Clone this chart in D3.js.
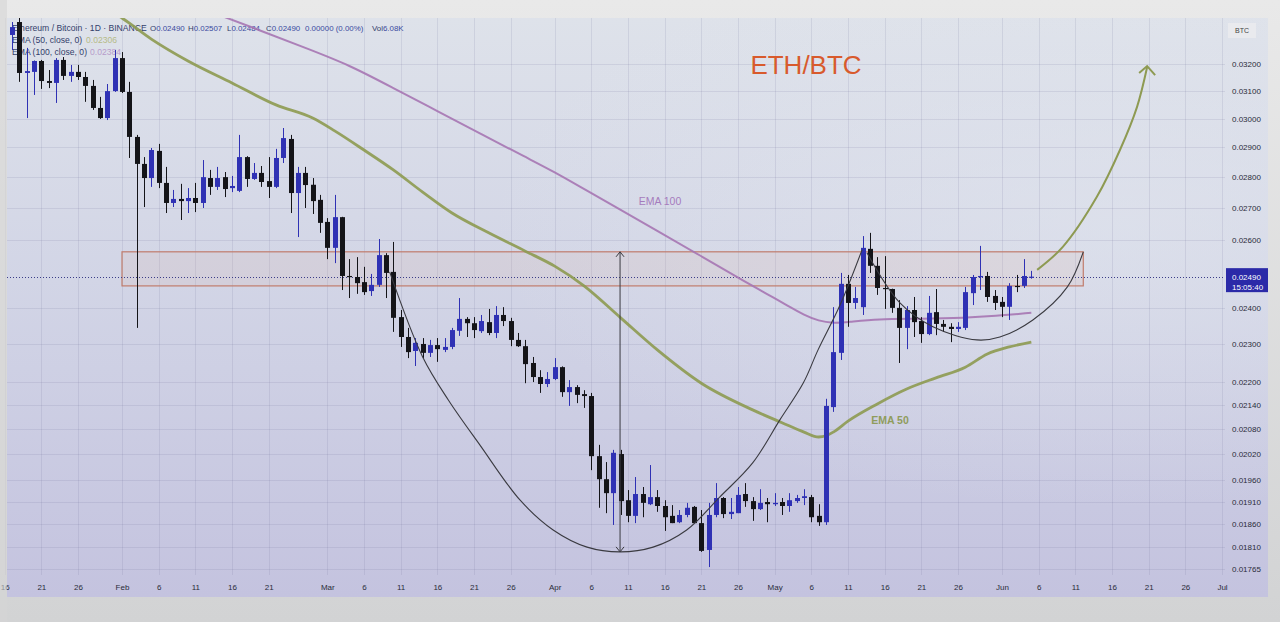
<!DOCTYPE html>
<html><head><meta charset="utf-8">
<script src="https://cdn.jsdelivr.net/npm/d3@7"></script>
<style>html,body{margin:0;padding:0;background:#d9d9d9;overflow:hidden}svg{display:block}</style>
</head><body><svg id="c" width="1280" height="622"></svg>
<script>
// ---------- DATA ----------
// [date, open, high, low, close]  (ETH/BTC daily, 2025)
const candles = [
["01-17",0.03311,0.03362,0.03253,0.03342],["01-18",0.03362,0.03378,0.03133,0.03166],["01-19",0.03166,0.03261,0.03002,0.03173],
["01-20",0.03170,0.03213,0.03085,0.03211],["01-21",0.03211,0.03215,0.03107,0.03136],["01-22",0.03136,0.03177,0.03110,0.03129],
["01-23",0.03129,0.03222,0.03056,0.03215],["01-24",0.03215,0.03226,0.03140,0.03155],["01-25",0.03155,0.03196,0.03133,0.03170],
["01-26",0.03170,0.03196,0.03140,0.03151],["01-27",0.03151,0.03170,0.03060,0.03118],["01-28",0.03118,0.03140,0.03031,0.03038],
["01-29",0.03038,0.03078,0.02999,0.03002],["01-30",0.03002,0.03125,0.02995,0.03099],["01-31",0.03099,0.03253,0.03096,0.03222],
["02-01",0.03222,0.03245,0.03092,0.03096],["02-02",0.03096,0.03133,0.02864,0.02936],["02-03",0.02936,0.02943,0.02344,0.02844],
["02-04",0.02844,0.02867,0.02703,0.02797],["02-05",0.02797,0.02898,0.02768,0.02891],["02-06",0.02888,0.02912,0.02764,0.02781],
["02-07",0.02781,0.02834,0.02684,0.02716],["02-08",0.02716,0.02758,0.02703,0.02729],["02-09",0.02729,0.02778,0.02662,0.02722],
["02-10",0.02722,0.02764,0.02684,0.02732],["02-11",0.02732,0.02781,0.02687,0.02716],["02-12",0.02716,0.02857,0.02700,0.02800],
["02-13",0.02797,0.02824,0.02742,0.02768],["02-14",0.02768,0.02834,0.02758,0.02797],["02-15",0.02800,0.02817,0.02735,0.02761],
["02-16",0.02764,0.02804,0.02751,0.02771],["02-17",0.02755,0.02943,0.02751,0.02867],["02-18",0.02867,0.02870,0.02768,0.02794],
["02-19",0.02794,0.02847,0.02791,0.02814],["02-20",0.02814,0.02837,0.02768,0.02784],["02-21",0.02787,0.02867,0.02732,0.02768],
["02-22",0.02768,0.02895,0.02764,0.02864],["02-23",0.02864,0.02967,0.02847,0.02932],["02-24",0.02929,0.02943,0.02684,0.02748],
["02-25",0.02748,0.02834,0.02609,0.02814],["02-26",0.02814,0.02834,0.02700,0.02774],["02-27",0.02775,0.02797,0.02681,0.02722],
["02-28",0.02726,0.02742,0.02622,0.02653],["03-01",0.02656,0.02668,0.02542,0.02576],["03-02",0.02576,0.02742,0.02530,0.02671],
["03-03",0.02671,0.02672,0.02451,0.02492],["03-04",0.02492,0.02542,0.02428,0.02489],["03-05",0.02489,0.02548,0.02440,0.02471],
["03-06",0.02474,0.02519,0.02437,0.02445],["03-07",0.02448,0.02498,0.02434,0.02466],["03-08",0.02466,0.02603,0.02460,0.02554],
["03-09",0.02554,0.02560,0.02428,0.02501],["03-10",0.02504,0.02594,0.02333,0.02372],["03-11",0.02374,0.02394,0.02292,0.02319],
["03-12",0.02319,0.02344,0.02262,0.02278],["03-13",0.02281,0.02316,0.02241,0.02303],["03-14",0.02300,0.02316,0.02262,0.02276],
["03-15",0.02276,0.02311,0.02265,0.02297],["03-16",0.02297,0.02316,0.02252,0.02286],["03-17",0.02284,0.02316,0.02278,0.02292],
["03-18",0.02292,0.02344,0.02286,0.02338],["03-19",0.02336,0.02428,0.02322,0.02369],["03-20",0.02369,0.02374,0.02319,0.02357],
["03-21",0.02357,0.02374,0.02316,0.02338],["03-22",0.02335,0.02380,0.02330,0.02363],["03-23",0.02360,0.02397,0.02324,0.02330],
["03-24",0.02330,0.02405,0.02316,0.02380],["03-25",0.02380,0.02402,0.02349,0.02363],["03-26",0.02363,0.02372,0.02294,0.02311],
["03-27",0.02311,0.02330,0.02292,0.02294],["03-28",0.02294,0.02311,0.02196,0.02246],["03-29",0.02249,0.02265,0.02199,0.02212],
["03-30",0.02212,0.02230,0.02171,0.02194],["03-31",0.02194,0.02225,0.02186,0.02207],["04-01",0.02207,0.02262,0.02204,0.02238],
["04-02",0.02238,0.02240,0.02161,0.02173],["04-03",0.02173,0.02204,0.02138,0.02186],["04-04",0.02186,0.02191,0.02145,0.02166],
["04-05",0.02168,0.02178,0.02133,0.02163],["04-06",0.02163,0.02171,0.01982,0.02015],["04-07",0.02015,0.02042,0.01896,0.01961],
["04-08",0.01961,0.02001,0.01884,0.01929],["04-09",0.01929,0.02030,0.01858,0.02023],["04-10",0.02020,0.02030,0.01880,0.01911],
["04-11",0.01913,0.01936,0.01864,0.01878],["04-12",0.01878,0.01966,0.01862,0.01927],["04-13",0.01927,0.01943,0.01875,0.01907],
["04-14",0.01904,0.01994,0.01902,0.01920],["04-15",0.01920,0.01936,0.01887,0.01900],["04-16",0.01900,0.01913,0.01845,0.01875],
["04-17",0.01878,0.01902,0.01862,0.01862],["04-18",0.01864,0.01891,0.01862,0.01880],["04-19",0.01880,0.01907,0.01875,0.01896],
["04-20",0.01898,0.01900,0.01862,0.01862],["04-21",0.01862,0.01891,0.01800,0.01802],["04-22",0.01804,0.01907,0.01768,0.01880],
["04-23",0.01880,0.01952,0.01875,0.01918],["04-24",0.01918,0.01920,0.01873,0.01882],["04-25",0.01882,0.01918,0.01871,0.01887],
["04-26",0.01884,0.01943,0.01884,0.01925],["04-27",0.01927,0.01952,0.01898,0.01911],["04-28",0.01911,0.01920,0.01867,0.01893],
["04-29",0.01893,0.01938,0.01891,0.01907],["04-30",0.01909,0.01918,0.01864,0.01904],["05-01",0.01904,0.01929,0.01900,0.01907],
["05-02",0.01909,0.01918,0.01880,0.01900],["05-03",0.01900,0.01929,0.01887,0.01913],["05-04",0.01911,0.01925,0.01907,0.01918],
["05-05",0.01918,0.01938,0.01902,0.01922],["05-06",0.01920,0.01925,0.01864,0.01875],["05-07",0.01878,0.01904,0.01856,0.01864],
["05-08",0.01864,0.02156,0.01858,0.02138],["05-09",0.02135,0.02402,0.02123,0.02278],["05-10",0.02276,0.02501,0.02257,0.02469],
["05-11",0.02469,0.02495,0.02347,0.02414],["05-12",0.02414,0.02460,0.02397,0.02428],["05-13",0.02402,0.02612,0.02380,0.02576],
["05-14",0.02573,0.02622,0.02501,0.02522],["05-15",0.02522,0.02548,0.02437,0.02457],["05-16",0.02457,0.02551,0.02397,0.02454],
["05-17",0.02454,0.02455,0.02386,0.02400],["05-18",0.02400,0.02422,0.02249,0.02344],["05-19",0.02344,0.02405,0.02286,0.02394],
["05-20",0.02394,0.02431,0.02319,0.02360],["05-21",0.02363,0.02374,0.02303,0.02327],["05-22",0.02327,0.02434,0.02324,0.02386],
["05-23",0.02388,0.02454,0.02324,0.02355],["05-24",0.02355,0.02366,0.02333,0.02347],["05-25",0.02347,0.02357,0.02305,0.02341],
["05-26",0.02341,0.02360,0.02333,0.02347],["05-27",0.02344,0.02460,0.02338,0.02445],["05-28",0.02442,0.02495,0.02408,0.02489],
["05-29",0.02489,0.02582,0.02451,0.02492],["05-30",0.02492,0.02504,0.02417,0.02431],["05-31",0.02434,0.02451,0.02394,0.02414],
["06-01",0.02417,0.02431,0.02374,0.02403],["06-02",0.02403,0.02471,0.02366,0.02463],["06-03",0.02463,0.02495,0.02445,0.02460],
["06-04",0.02463,0.02542,0.02457,0.02492],["06-05",0.02490,0.02507,0.02484,0.02490]
];
const ema50 = [["01-28",0.03467],["01-30",0.03415],["02-01",0.03378],["02-05",0.03295],["02-10",0.03211],["02-16",0.03129],
["02-22",0.03049],["02-27",0.03002],["03-02",0.02957],["03-06",0.02891],["03-10",0.02824],["03-14",0.02751],["03-18",0.02684],
["03-23",0.02622],["03-28",0.02566],["04-01",0.02521],["04-05",0.02463],["04-10",0.02372],["04-15",0.02284],["04-21",0.02196],
["04-28",0.02128],["05-02",0.02096],["05-05",0.02073],["05-07",0.02061],["05-08",0.02064],["05-09",0.02073],["05-11",0.02100],
["05-15",0.02143],["05-19",0.02181],["05-23",0.02210],["05-27",0.02238],["05-30",0.02273],["06-02",0.02292],["06-05",0.02305]];
const ema100 = [["02-12",0.03414],["02-14",0.03393],["02-20",0.03327],["02-26",0.03261],["03-04",0.03196],["03-10",0.03110],
["03-16",0.03027],["03-22",0.02946],["03-28",0.02867],["04-01",0.02817],["04-05",0.02761],["04-10",0.02694],["04-15",0.02628],
["04-21",0.02551],["04-27",0.02474],["05-01",0.02428],["05-03",0.02403],["05-05",0.02380],["05-07",0.02363],["05-09",0.02357],
["05-11",0.02360],["05-15",0.02369],["05-21",0.02369],["05-27",0.02372],["05-31",0.02377],["06-05",0.02386]];
const priceTicks = [0.032,0.031,0.030,0.029,0.028,0.027,0.026,0.024,0.023,0.022,0.0214,0.0208,0.0202,0.0196,0.0191,0.0186,0.0181,0.01765];
const dateTicks = ["01-16","01-21","01-26","02-01","02-06","02-11","02-16","02-21","03-01","03-06","03-11","03-16","03-21","03-26",
"04-01","04-06","04-11","04-16","04-21","04-26","05-01","05-06","05-11","05-16","05-21","05-26","06-01","06-06","06-11","06-16","06-21","06-26","07-01"];
// drawings
const bigCup = [["03-09T12",0.02504],["03-14T00",0.02265],["03-17T12",0.02153],["03-21T19",0.02042],["03-27T07",0.01913],
["03-31T19",0.01847],["04-05T10",0.01810],["04-09T22",0.01800],["04-14T10",0.01810],["04-19T00",0.01847],["04-23T12",0.01920],
["04-28T00",0.01999],["05-01T17",0.02103],["05-04T22",0.02197],["05-06T22",0.02284],["05-09T22",0.02408],["05-12T22",0.02570]];
const smallCup = [["05-13T14",0.02561],["05-18T02",0.02414],["05-22T14",0.02347],["05-28T14",0.02311],["05-31T17",0.02319],
["06-05T05",0.02366],["06-09T22",0.02460],["06-12T02",0.02564]];
const upArrow = [["06-05T19",0.02510],["06-09T07",0.02579],["06-13T22",0.02735],["06-17T02",0.02891],["06-19T10",0.03042],["06-20T19",0.03188]];
const zoneFrom = "02-01", zoneTo = "06-12T02", zoneTop = 0.02564, zoneBottom = 0.02463;
const arrowDate = "04-09T22", arrowTop = 0.02564, arrowBottom = 0.01800;
const lastPrice = 0.02490, lastTime = "15:05:40";
const legendTitle = "Ethereum / Bitcoin · 1D · BINANCE";
const legendOHLC = [["O","0.02490"],["H","0.02507"],["L","0.02484"],["C","0.02490"],["","0.00000 (0.00%)"],["Vol","6.08K"]];
const legendEMA = [["EMA (50, close, 0)","0.02306"],["EMA (100, close, 0)","0.02384"]];

// ---------- CHART ----------
const T = s => new Date(`2025-${s}${s.includes("T") ? ":00:00Z" : "T00:00:00Z"}`);
const x = d3.scaleUtc().domain([T("01-01"), T("07-01")]).range([-105.33, 1222]);
const y = d3.scaleLog().domain([0.01765, 0.032]).range([568.5, 63.9]);
const FONT = "'Liberation Sans', Arial, sans-serif";
const svg = d3.select("#c");
const defs = svg.append("defs");
const bg = defs.append("linearGradient").attr("id","bg").attr("x1",0).attr("y1",0).attr("x2",0).attr("y2",1);
bg.append("stop").attr("offset","0%").attr("stop-color","#dee2ea");
bg.append("stop").attr("offset","45%").attr("stop-color","#d2d5e6");
bg.append("stop").attr("offset","100%").attr("stop-color","#c4c3df");
const hl = defs.append("radialGradient").attr("id","hl").attr("cx","0.88").attr("cy","0.35").attr("r","0.5");
hl.append("stop").attr("offset","0%").attr("stop-color","#e2e6ee").attr("stop-opacity",0.55);
hl.append("stop").attr("offset","100%").attr("stop-color","#e2e6ee").attr("stop-opacity",0);
const fr = defs.append("linearGradient").attr("id","fr").attr("x1",0).attr("y1",0).attr("x2",0).attr("y2",1);
fr.append("stop").attr("offset","0%").attr("stop-color","#e9e9e9");
fr.append("stop").attr("offset","100%").attr("stop-color","#d2d3d4");
defs.append("clipPath").attr("id","plot").append("rect").attr("x",7).attr("y",18).attr("width",1218).attr("height",557);

svg.append("rect").attr("width",1280).attr("height",622).attr("fill","url(#fr)");
svg.append("rect").attr("x",7).attr("y",18).attr("width",1261).attr("height",579).attr("fill","url(#bg)");
svg.append("rect").attr("x",7).attr("y",18).attr("width",1261).attr("height",579).attr("fill","url(#hl)");

// grid
const grid = svg.append("g").attr("stroke","rgba(105,105,150,0.14)").attr("stroke-width",1);
grid.selectAll("line.h").data(priceTicks).join("line")
  .attr("x1",7).attr("x2",1225).attr("y1",d=>Math.round(y(d))+0.5).attr("y2",d=>Math.round(y(d))+0.5);
grid.selectAll("line.v").data(dateTicks).join("line")
  .attr("y1",18).attr("y2",575).attr("x1",d=>Math.round(x(T(d)))+0.5).attr("x2",d=>Math.round(x(T(d)))+0.5);

// legend (drawn under candles as in the reference)
const lg = svg.append("g").attr("font-family",FONT).attr("font-size",8.6);
lg.append("text").attr("x",12).attr("y",31).attr("fill","#33406a").text(legendTitle);
const ohlcX = [150,188,227,266,305,372];
legendOHLC.forEach((d,i)=>{
  const t = lg.append("text").attr("x",ohlcX[i]).attr("y",31).attr("font-size",7.9);
  t.append("tspan").attr("fill","#33406a").text(d[0]);
  t.append("tspan").attr("fill","#3a4aa0").text(d[1]);
});
lg.append("text").attr("x",12).attr("y",43).attr("fill","#33406a").text(legendEMA[0][0]);
lg.append("text").attr("x",86).attr("y",43).attr("fill","#b6bb88").text(legendEMA[0][1]);
lg.append("text").attr("x",12).attr("y",55).attr("fill","#33406a").text(legendEMA[1][0]);
lg.append("text").attr("x",90).attr("y",55).attr("fill","#b79ccb").text(legendEMA[1][1]);

const plot = svg.append("g").attr("clip-path","url(#plot)");

// zone
plot.append("rect")
  .attr("x",x(T(zoneFrom))).attr("width",x(T(zoneTo))-x(T(zoneFrom)))
  .attr("y",y(zoneTop)).attr("height",y(zoneBottom)-y(zoneTop))
  .attr("fill","rgba(226,170,150,0.13)").attr("stroke","#c07c6c").attr("stroke-width",1.2);

// current price dotted line
plot.append("line").attr("x1",7).attr("x2",1225).attr("y1",Math.round(y(lastPrice))+0.5).attr("y2",Math.round(y(lastPrice))+0.5)
  .attr("stroke","#3a3c88").attr("stroke-width",1).attr("stroke-dasharray","1 2");

// EMAs
const line50 = d3.line().x(d=>x(T(d[0]))).y(d=>y(d[1])).curve(d3.curveMonotoneX);
const line100 = d3.line().x(d=>x(T(d[0]))).y(d=>y(d[1])).curve(d3.curveBasis);
plot.append("path").attr("d",line100(ema100)).attr("fill","none").attr("stroke","#a676b2").attr("stroke-width",2).attr("stroke-opacity",0.9);
plot.append("path").attr("d",line50(ema50)).attr("fill","none").attr("stroke","#8d9a50").attr("stroke-width",2.8).attr("stroke-opacity",0.9);

// candles
const UP = "#2f31b4", DOWN = "#141418";
const cg = plot.append("g");
const cs = cg.selectAll("g").data(candles).join("g");
cs.append("line")
  .attr("x1",d=>Math.round(x(T(d[0])))+0.5).attr("x2",d=>Math.round(x(T(d[0])))+0.5)
  .attr("y1",d=>y(d[2])).attr("y2",d=>y(d[3]))
  .attr("stroke",d=>d[4]>=d[1]?UP:DOWN).attr("stroke-width",1);
cs.append("rect")
  .attr("x",d=>Math.round(x(T(d[0])))-2).attr("width",5)
  .attr("y",d=>y(Math.max(d[1],d[4])))
  .attr("height",d=>Math.max(1.2,Math.abs(y(d[1])-y(d[4]))))
  .attr("fill",d=>d[4]>=d[1]?UP:DOWN);

// drawings
const cup = d3.line().x(d=>x(T(d[0]))).y(d=>y(d[1])).curve(d3.curveCatmullRom);
plot.append("path").attr("d",cup(bigCup)).attr("fill","none").attr("stroke","#3a3a40").attr("stroke-width",1.1);
plot.append("path").attr("d",cup(smallCup)).attr("fill","none").attr("stroke","#3a3a40").attr("stroke-width",1.1);
// vertical double arrow
const ax = x(T(arrowDate)), ay1 = y(arrowTop), ay2 = y(arrowBottom);
plot.append("line").attr("x1",ax).attr("x2",ax).attr("y1",ay1).attr("y2",ay2).attr("stroke","#3a3a40").attr("stroke-width",1);
plot.append("path").attr("d",`M${ax-4},${ay1+5}L${ax},${ay1}L${ax+4},${ay1+5}M${ax-4},${ay2-5}L${ax},${ay2}L${ax+4},${ay2-5}`)
  .attr("fill","none").attr("stroke","#3a3a40").attr("stroke-width",1);
// green curved arrow
plot.append("path").attr("d",cup(upArrow)).attr("fill","none").attr("stroke","#8e9a52").attr("stroke-width",2);
const tip = upArrow[upArrow.length-1], tx = x(T(tip[0])), ty = y(tip[1]);
plot.append("path").attr("d",`M${tx-8},${ty+6}L${tx},${ty-1}L${tx+8},${ty+8}`).attr("fill","none").attr("stroke","#8e9a52").attr("stroke-width",2);

// text annotations
svg.append("text").attr("x",806).attr("y",74).attr("text-anchor","middle").attr("font-family",FONT)
  .attr("font-size",26).attr("fill","#d85a2c").text("ETH/BTC");
svg.append("text").attr("x",660).attr("y",205).attr("text-anchor","middle").attr("font-family",FONT)
  .attr("font-size",10.5).attr("fill","#a67bbd").text("EMA 100");
svg.append("text").attr("x",890).attr("y",424).attr("text-anchor","middle").attr("font-family",FONT)
  .attr("font-size",10.5).attr("font-weight","bold").attr("fill","#909c5c").text("EMA 50");

// axes
const yAxis = svg.append("g").attr("transform","translate(1230,0)")
  .call(d3.axisRight(y).tickValues(priceTicks).tickFormat(d3.format(".5f")).tickSize(0).tickPadding(2));
yAxis.select(".domain").remove();
yAxis.selectAll("text").attr("font-family",FONT).attr("font-size",8).attr("fill","#2a2c3a");

const fmtDay = d => d.getUTCDate()===1 ? d3.utcFormat("%b")(d) : String(d.getUTCDate());
const xAxis = svg.append("g").attr("transform","translate(0,580)")
  .call(d3.axisBottom(x).tickValues(dateTicks.map(T)).tickFormat(fmtDay).tickSize(0).tickPadding(4));
xAxis.select(".domain").remove();
xAxis.selectAll("text").attr("font-family",FONT).attr("font-size",8).attr("fill","#2a2c3a");

// current price label
const ly = y(lastPrice);
svg.append("rect").attr("x",1226).attr("y",ly-8.5).attr("width",42).attr("height",24).attr("fill","#2b2aa8");
svg.append("text").attr("x",1232).attr("y",ly+3).attr("font-family",FONT).attr("font-size",8).attr("fill","#fff").text(d3.format(".5f")(lastPrice));
svg.append("text").attr("x",1232).attr("y",ly+13).attr("font-family",FONT).attr("font-size",8).attr("fill","#fff").text(lastTime);
// currency box
svg.append("rect").attr("x",1228).attr("y",23).attr("width",28).attr("height",15).attr("fill","#e9eaee");
svg.append("text").attr("x",1242).attr("y",33).attr("text-anchor","middle").attr("font-family",FONT).attr("font-size",7).attr("fill","#444").text("BTC");

// left bezel strip
svg.append("rect").attr("x",0).attr("y",0).attr("width",7).attr("height",622).attr("fill","#d6d6d6").attr("opacity",0.6);
</script>
</body></html>
